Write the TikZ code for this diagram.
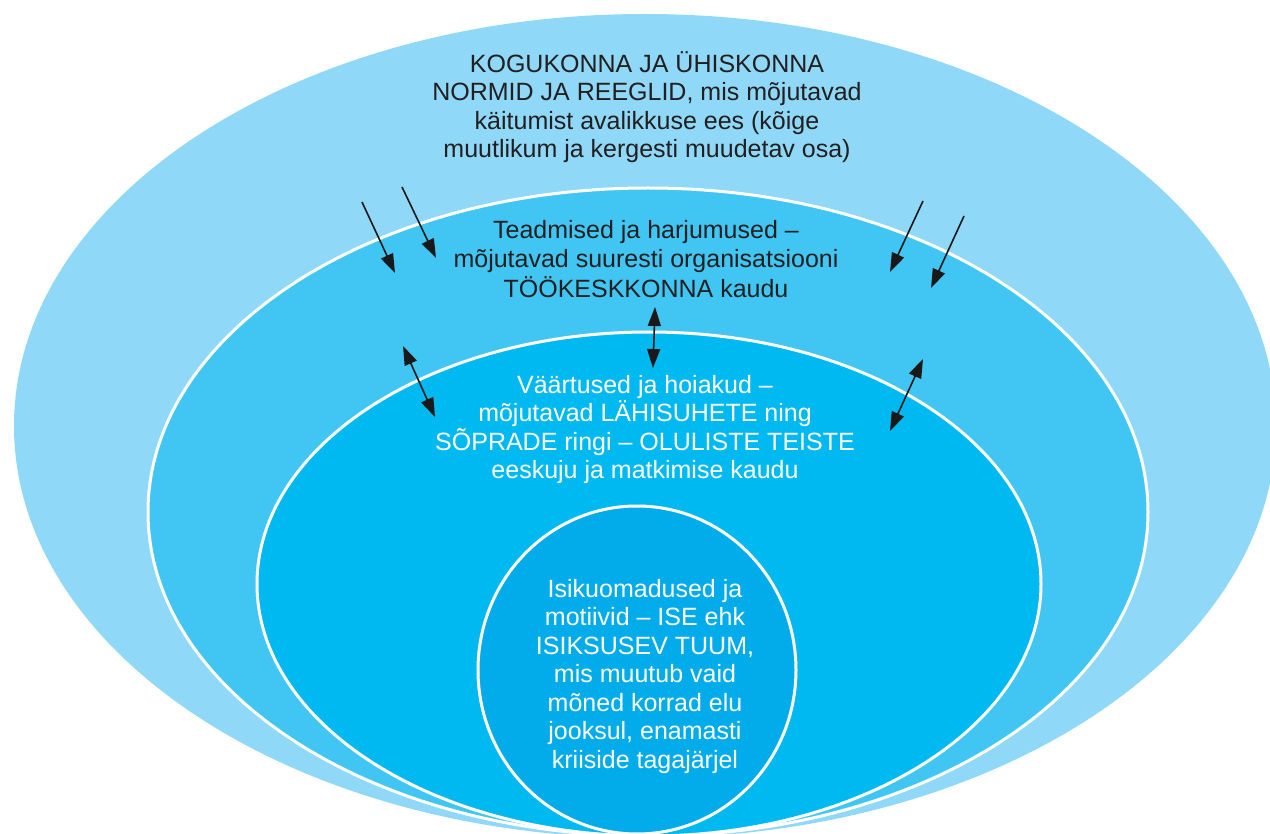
\documentclass[tikz,border=0pt]{standalone}
\usepackage{fontspec}
\setmainfont{Liberation Sans}
\usetikzlibrary{arrows.meta}
\definecolor{ringA}{HTML}{8FD8F7}
\definecolor{ringB}{HTML}{41C6F4}
\definecolor{ringC}{HTML}{00B9F1}
\definecolor{ringD}{HTML}{02ACEB}
\definecolor{txtdark}{HTML}{231F20}
\newcommand\firstln{\rule{0pt}{30pt}}
\begin{document}
\begin{tikzpicture}[x=1pt,y=-1pt,
  ring/.style={draw=white,line width=3pt},
  txt/.style={font=\fontsize{25}{28.5}\selectfont,align=center,inner sep=0pt,anchor=north},
  onearrow/.style={draw=black!90,line width=1.6pt,-{Triangle[length=19pt,width=13pt]}},
  twoarrow/.style={draw=black!90,line width=1.6pt,{Triangle[length=19pt,width=13pt]}-{Triangle[length=19pt,width=13pt]}}]
\useasboundingbox (0,0) rectangle (1270,834);
\clip (0,0) rectangle (1270,834);
% rings
\fill[ringA] (645,426) ellipse [x radius=631pt, y radius=412pt];
\path[ring,fill=ringB] (648,512) ellipse [x radius=500pt, y radius=324pt];
\path[ring,fill=ringC] (649,584) ellipse [x radius=392pt, y radius=252pt];
\path[ring,fill=ringD] (637,670) ellipse [x radius=159pt, y radius=164pt];
% texts
\node[txt,text=txtdark] (outer) at (647,42) {\firstln KOGUKONNA JA ÜHISKONNA\\NORMID JA REEGLID, mis mõjutavad\\käitumist avalikkuse ees (kõige\\muutlikum ja kergesti muudetav osa)};
\node[txt,text=txtdark,font=\fontsize{25}{29.5}\selectfont] (know) at (646,208) {\firstln Teadmised ja harjumused –\\mõjutavad suuresti organisatsiooni\\TÖÖKESKKONNA kaudu};
\node[txt,text=white] (values) at (645,363) {\firstln Väärtused ja hoiakud –\\mõjutavad LÄHISUHETE ning\\SÕPRADE ringi – OLULISTE TEISTE\\eeskuju ja matkimise kaudu};
\node[txt,text=white] (core) at (645,567) {\firstln Isikuomadused ja\\motiivid – ISE ehk\\ISIKSUSEV TUUM,\\mis muutub vaid\\mõned korrad elu\\jooksul, enamasti\\kriiside tagajärjel};
% arrow end points
\coordinate (a1s) at (362,202); \coordinate (a1e) at (395,273);
\coordinate (a2s) at (402,187); \coordinate (a2e) at (436,258);
\coordinate (a3s) at (923,201); \coordinate (a3e) at (890,272);
\coordinate (a4s) at (964,216); \coordinate (a4e) at (931,288);
\coordinate (b1s) at (403,346); \coordinate (b1e) at (435,417);
\coordinate (b2s) at (655,307); \coordinate (b2e) at (653,368);
\coordinate (b3s) at (923,359); \coordinate (b3e) at (890,431);
\draw[onearrow] (a1s) -- (a1e);
\draw[onearrow] (a2s) -- (a2e);
\draw[onearrow] (a3s) -- (a3e);
\draw[onearrow] (a4s) -- (a4e);
\draw[twoarrow] (b1s) -- (b1e);
\draw[twoarrow] (b2s) -- (b2e);
\draw[twoarrow] (b3s) -- (b3e);
\end{tikzpicture}
\end{document}
